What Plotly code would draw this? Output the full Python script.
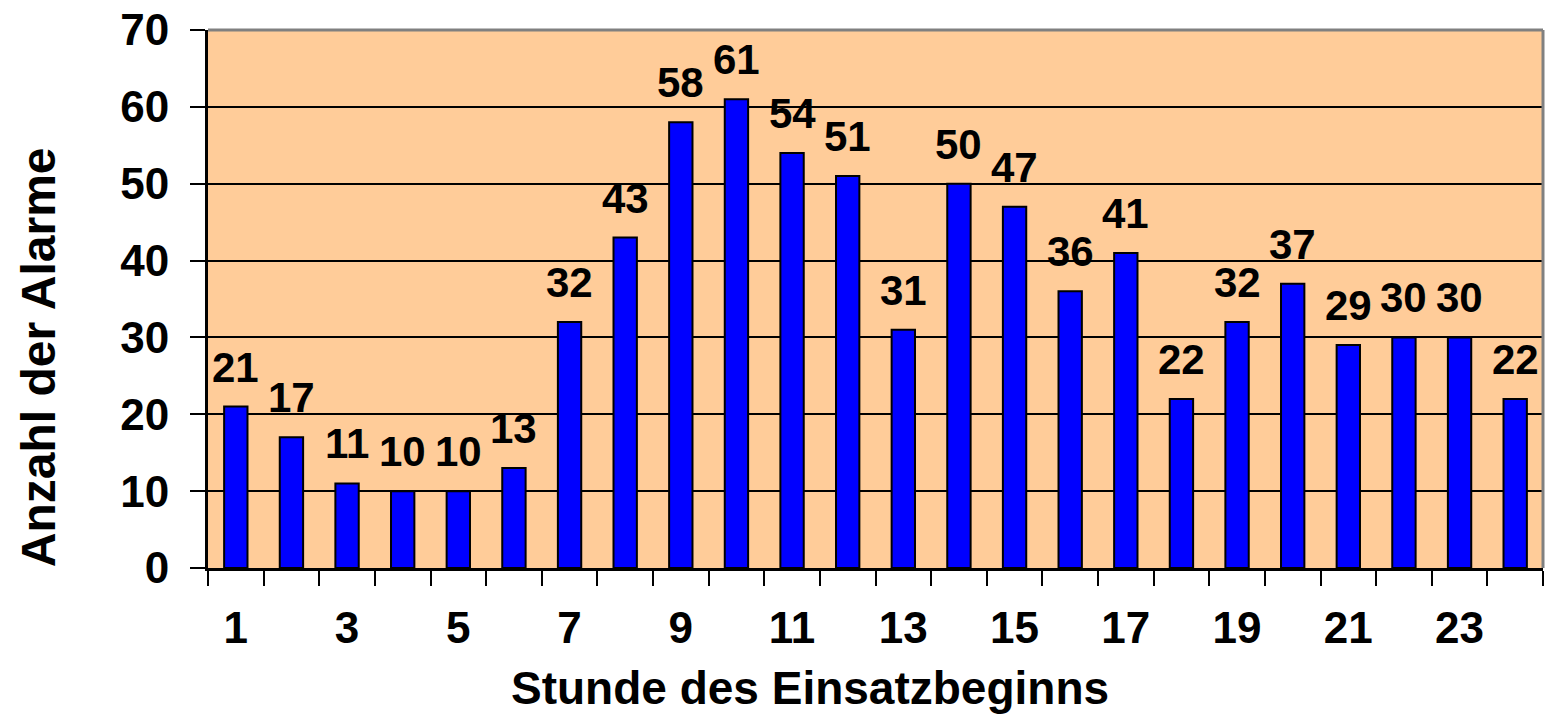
import plotly.graph_objects as go

hours = [str(h) for h in range(1, 25)]
alarms = [21, 17, 11, 10, 10, 13, 32, 43, 58, 61, 54, 51, 31, 50, 47, 36, 41, 22, 32, 37, 29, 30, 30, 22]
x_tick_text = [h if int(h) % 2 == 1 else "" for h in hours]
y_ticks = [0, 10, 20, 30, 40, 50, 60, 70]

FONT = "Liberation Sans, Arial, sans-serif"
FS_TICK = 44
FS_LABEL = 42

fig = go.Figure()
fig.add_trace(go.Bar(
    x=hours, y=alarms,
    marker=dict(color="#0000FF", line=dict(color="black", width=2)),
    width=0.42,
    hoverinfo="skip",
))

annotations = []
for i, v in enumerate(alarms):
    annotations.append(dict(
        x=i, y=v, xref="x", yref="y", text=f"<b>{v}</b>", showarrow=False,
        xanchor="center", yanchor="bottom", yshift=14,
        font=dict(family=FONT, size=FS_LABEL, color="black"),
    ))

annotations.append(dict(
    text="<b>Stunde des Einsatzbeginns</b>", xref="paper", yref="paper",
    x=0.451, y=-0.223, showarrow=False, xanchor="center", yanchor="middle",
    font=dict(family=FONT, size=46, color="black"),
))
annotations.append(dict(
    text="<b>Anzahl der Alarme</b>", xref="paper", yref="paper", textangle=-90,
    x=-0.1273, y=0.392, showarrow=False, xanchor="center", yanchor="middle",
    font=dict(family=FONT, size=48, color="black"),
))

fig.update_layout(
    width=1546, height=715,
    margin=dict(l=208, r=3, t=30, b=147),
    paper_bgcolor="white",
    plot_bgcolor="#FFCC99",
    showlegend=False,
    annotations=annotations,
    shapes=[
        dict(type="line", xref="paper", yref="paper", x0=0, x1=1, y0=1, y1=1,
             line=dict(color="#808080", width=3), layer="above"),
        dict(type="line", xref="paper", yref="paper", x0=1, x1=1, y0=0, y1=1,
             line=dict(color="#808080", width=3), layer="above"),
    ],
    font=dict(family=FONT, size=FS_TICK, color="black"),
)

fig.update_xaxes(
    type="category", tickmode="array", tickvals=hours,
    ticktext=[f"<b>{t}</b>" if t else "" for t in x_tick_text],
    tickson="boundaries", ticks="outside", ticklen=15, tickwidth=2, tickcolor="black",
    showline=True, linecolor="black", linewidth=3, showgrid=False,
    tickangle=0, automargin=False, ticklabeloverflow="allow",
    tickfont=dict(family=FONT, size=FS_TICK, color="black"), ticklabelstandoff=19,
)
fig.update_yaxes(
    range=[0, 70], tickmode="array", tickvals=y_ticks, ticktext=[f"<b>{t}</b>" for t in y_ticks],
    ticks="outside", ticklen=15, tickwidth=2, tickcolor="black",
    showline=True, linecolor="black", linewidth=3, automargin=False, ticklabeloverflow="allow",
    showgrid=True, gridcolor="black", gridwidth=2, zeroline=False,
    tickfont=dict(family=FONT, size=FS_TICK, color="black"), ticklabelstandoff=12,
)

fig.write_html("out.html", config={"displayModeBar": False},
               post_script="document.body.style.margin='0';")
